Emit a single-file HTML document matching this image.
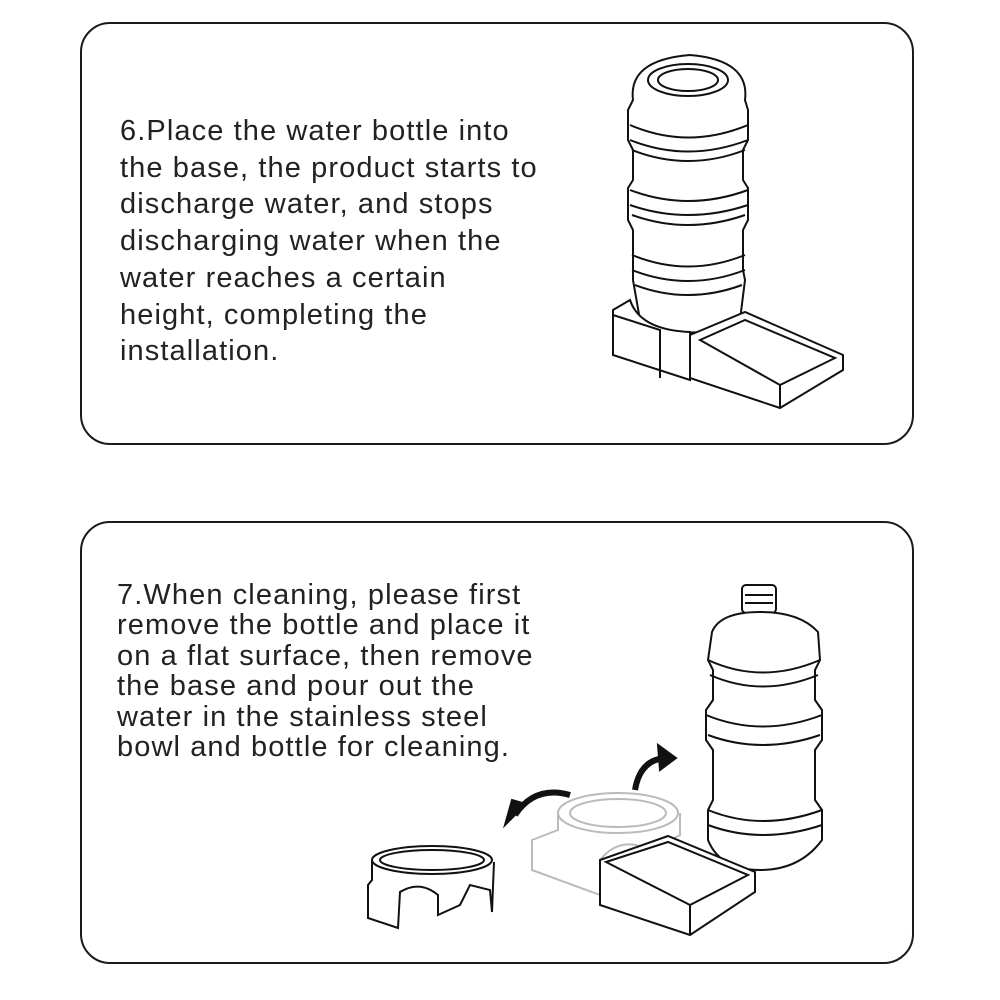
<!DOCTYPE html>
<html><head><style>
body{margin:0;width:1000px;height:1000px;background:#fff;position:relative;overflow:hidden;font-family:"Liberation Sans","DejaVu Sans",sans-serif;}
.box{position:absolute;border:2.5px solid #1a1a1a;border-radius:30px;box-sizing:border-box;}
.t{position:absolute;color:#222;font-size:29px;letter-spacing:1.1px;white-space:pre;}
svg{position:absolute;left:0;top:0}
</style></head><body>
<div class="box" style="left:80px;top:22px;width:834px;height:423px"></div>
<div class="box" style="left:80px;top:521px;width:834px;height:443px"></div>
<div class="t" style="left:120px;top:113px;line-height:36.7px">6.Place the water bottle into
the base, the product starts to
discharge water, and stops
discharging water when the
water reaches a certain
height, completing the
installation.</div>
<div class="t" style="left:117px;top:580px;line-height:30.4px">7.When cleaning, please first
remove the bottle and place it
on a flat surface, then remove
the base and pour out the
water in the stainless steel
bowl and bottle for cleaning.</div>
<svg width="1000" height="1000" fill="none" stroke="#111" stroke-width="2">
<path d="M633 100 Q628 60 690 55 Q750 60 745 100 L748 110 L748 140 L743 150 L743 180 L748 188 L748 220 L743 230 L743 270 L745 280 L740 320 Q690 345 640 320 L633 280 L633 230 L628 220 L628 188 L633 180 L633 150 L628 140 L628 110 Z" fill="#fff"/>
<ellipse cx="688" cy="80" rx="40" ry="16"/>
<ellipse cx="688" cy="80" rx="30" ry="11"/>
<path d="M630 125 Q688 150 748 125 M630 140 Q688 163 748 140 M632 150 Q688 172 745 150 M630 190 Q688 212 748 190 M630 205 Q688 225 748 205 M632 215 Q688 235 745 215 M632 255 Q688 278 745 255 M632 270 Q688 292 745 270 M635 285 Q688 305 742 285"/>
<path d="M690 335 L745 312 L843 355 L843 370 L780 408 L690 378 Z" fill="#fff"/>
<path d="M700 340 L745 320 L835 358 L780 385 Z M780 385 L780 408"/>
<path d="M613 310 L630 300 Q640 330 690 332 L690 380 L613 355 Z" fill="#fff"/>
<path d="M613 315 L660 330 L660 378"/>
<rect x="742" y="585" width="34" height="28" rx="4" fill="#fff"/>
<path d="M745 595 h28 M745 603 h28"/>
<path d="M712 632 Q720 612 760 612 Q800 612 818 632 L820 660 L815 670 L815 700 L822 710 L822 740 L815 750 L815 800 L822 810 L822 840 Q800 870 760 870 Q720 870 708 840 L708 810 L713 800 L713 750 L706 740 L706 710 L713 700 L713 670 L708 660 Z" fill="#fff"/>
<path d="M708 660 Q762 685 820 660 M710 675 Q762 698 818 675 M706 715 Q762 738 822 715 M708 735 Q762 755 820 735 M708 810 Q762 832 822 810 M708 825 Q762 845 822 825"/>
<g stroke="#bbb">
<ellipse cx="618" cy="813" rx="60" ry="20"/>
<ellipse cx="618" cy="813" rx="48" ry="14"/>
<path d="M558 813 L558 830 L532 840 L532 870 L600 895 L600 860 Q620 835 650 850 L680 835 L680 813"/>
</g>
<path d="M600 860 L668 836 L755 872 L755 892 L690 935 L600 905 Z" fill="#fff"/>
<path d="M606 862 L668 842 L748 875 L690 905 Z M690 905 L690 935"/>
<ellipse cx="432" cy="860" rx="60" ry="14" fill="#fff"/>
<ellipse cx="432" cy="860" rx="52" ry="10"/>
<path d="M372 860 L372 880 L368 885 L368 918 L398 928 L400 892 Q420 880 438 895 L438 915 L460 905 L470 885 L490 890 L492 912 L494 862"/>
<path d="M515 815 Q535 785 570 795" stroke-width="6"/>
<path d="M505 825 L526 804 L512 800 Z" fill="#111"/>
<path d="M635 790 Q640 760 665 758" stroke-width="6"/>
<path d="M676 758 L658 745 L660 770 Z" fill="#111"/>
</svg>
</body></html>
